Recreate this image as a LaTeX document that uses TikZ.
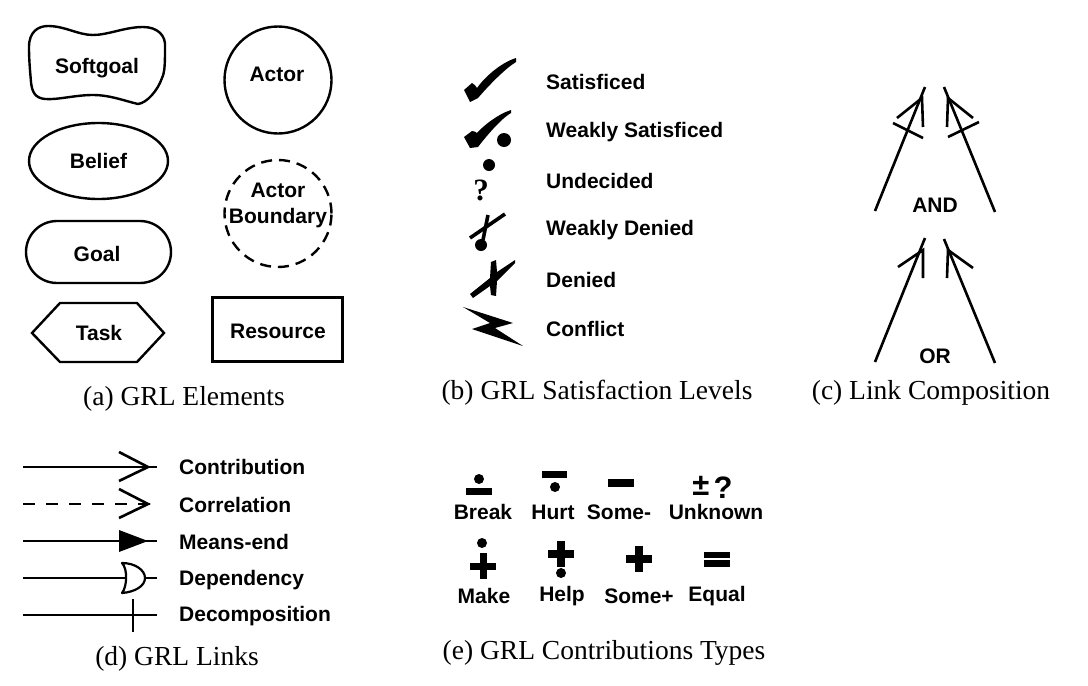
\documentclass[tikz,border=0pt]{standalone}
\usepackage{fontspec}
\setmainfont{Liberation Serif}
\setsansfont{Liberation Sans}
\usetikzlibrary{shapes.geometric,shapes.misc}

\tikzset{
   x=1pt, y=-1pt,
   every node/.style={font=\sffamily\bfseries\fontsize{21}{26}\selectfont, inner sep=0pt},
   outline/.style={draw, line width=2.4pt},
   lbl/.style={anchor=west},
   caption/.style={font=\rmfamily\fontsize{27.5}{32}\selectfont},
   link/.style={line width=2.6pt},
   thin link/.style={line width=2.2pt},
   glyph/.style={fill=black, draw=none},
}

\begin{document}
\begin{tikzpicture}
   \useasboundingbox (0,0) rectangle (1088,686);

   % GRL elements
   \draw [outline, line join=round] (29,47) .. controls (29,32) and (38,26) .. (48,26)
      .. controls (65,26) and (78,35) .. (93,35)
      .. controls (108,35) and (125,27) .. (143,27)
      .. controls (158,27) and (166,36) .. (165,47)
      .. controls (165,62) and (165,72) .. (162,78)
      .. controls (158,90) and (147,103) .. (138,104)
      .. controls (125,101) and (110,95) .. (93,95)
      .. controls (75,95) and (58,100) .. (45,99)
      .. controls (35,98) and (32,92) .. (31,82)
      .. controls (30,70) and (29,60) .. (29,47) -- cycle;
   \node (softgoal) at (97,68) {Softgoal};
   \node [outline, circle, minimum size=107pt] (actor) at (278,80) {};
   \node at (277,74) {Actor};
   \node [outline, ellipse, minimum width=139pt, minimum height=76pt] (belief) at (98.5,161) {Belief};
   \node [outline, dashed, dash pattern=on 11pt off 7pt, circle, minimum size=107pt, align=center] (boundary) at (278,213.5) {};
   \node [align=center] at (278,205) {Actor\\Boundary};
   \node [outline, rounded rectangle, minimum width=145pt, minimum height=62pt] (goal) at (98.5,252) {};
   \node at (97,254) {Goal};
   \draw [outline] (32,333) -- (60,303) -- (137,303) -- (164,333) -- (137,362) -- (60,362) -- cycle;
   \node (task) at (99,333) {Task};
   \node [draw, line width=3.2pt, minimum width=130pt, minimum height=64pt] (resource) at (277.5,329.5) {};
   \node at (278,331) {Resource};
   \node [caption] (capa) at (184,399) {(a) GRL Elements};

   % satisfaction levels
   \fill [glyph] (464,90) -- (472,83) .. controls (474,84) and (476,86) .. (477,88)
      .. controls (484,78) and (500,63) .. (516,58) -- (516,62)
      .. controls (506,68) and (490,84) .. (478,98)
      -- (470,102) -- cycle;
   \node [lbl] (satisfied) at (546,82) {Satisficed};
   \fill [glyph] (464,137) -- (472,131) .. controls (474,131) and (476,132) .. (477,133)
      .. controls (483,126) and (498,114) .. (511,110) -- (511,113)
      .. controls (502,118) and (488,134) .. (478,147)
      -- (470,148) -- cycle;
   \fill [glyph] (504,140) circle (7);
   \node [lbl] (weaksat) at (546,132) {Weakly Satisficed};
   \fill [glyph] (489,165) circle (6);
   \node [font=\rmfamily\bfseries\fontsize{31}{31}\selectfont] (undecidedsign) at (481,190) {?};
   \node [lbl] (undecided) at (546,181) {Undecided};
   \draw [line width=3.6pt] (470,238) -- (505,214);
   \draw [line width=3.6pt] (488,215) -- (483,240);
   \fill [glyph] (481,245) circle (6);
   \node [lbl] (weakdenied) at (546,230) {Weakly Denied};
   \fill [glyph] (470,294) -- (490,278) -- (491,262) -- (496,260) -- (497,272) -- (515,260) -- (515,263)
      -- (497,281) -- (496,296) -- (491,295) -- (490,286) -- (473,298) -- cycle;
   \node [lbl] (denied) at (546,280) {Denied};
   \fill [glyph] (463,307) -- (513,323) -- (495,328) -- (523,346) -- (472,329) -- (490,323) -- cycle;
   \node [lbl] (conflict) at (546,329) {Conflict};
   \node [caption] (capb) at (597,393) {(b) GRL Satisfaction Levels};

   % link composition
   \coordinate (andla) at (875,211);
   \coordinate (andlb) at (925,87);
   \coordinate (andra) at (995,212);
   \coordinate (andrb) at (944,87);
   \coordinate (orla) at (875,362);
   \coordinate (orlb) at (925,238);
   \coordinate (orra) at (995,363);
   \coordinate (orrb) at (944,239);
   \draw [link] (andla) -- (andlb);
   \draw [link] (897,118) -- (922,98) -- (923,127);
   \draw [link] (893,123) -- (923,138);
   \draw [link] (andra) -- (andrb);
   \draw [link] (973,118) -- (948,98) -- (947,127);
   \draw [link] (979,122) -- (948,137);
   \node (and) at (935,205) {AND};
   \draw [link] (orla) -- (orlb);
   \draw [link] (898,267) -- (923,250) -- (923,278);
   \draw [link] (orra) -- (orrb);
   \draw [link] (973,268) -- (948,250) -- (947,278);
   \node (or) at (935,356) {OR};
   \node [caption] (capc) at (931,393) {(c) Link Composition};

   % GRL links
   \coordinate (conta) at (23,467);
   \coordinate (contb) at (157,467);
   \coordinate (corra) at (23,504);
   \coordinate (corrb) at (157,504);
   \coordinate (meana) at (23,541);
   \coordinate (meanb) at (157,541);
   \coordinate (depa) at (23,578);
   \coordinate (depb) at (125,578);
   \coordinate (depc) at (145,578);
   \coordinate (depd) at (157,578);
   \coordinate (deca) at (23,615);
   \coordinate (decb) at (157,615);
   \draw [link] (conta) -- (contb);
   \draw [link] (119,452) -- (148,467) -- (119,481);
   \node [lbl] (contribution) at (179,467) {Contribution};
   \draw [link, dash pattern=on 12pt off 11pt] (corra) -- (corrb);
   \draw [link] (119,489) -- (148,504) -- (119,518);
   \node [lbl] (correlation) at (179,505) {Correlation};
   \draw [link] (meana) -- (meanb);
   \fill [glyph] (119,530) -- (148,541) -- (119,552) -- cycle;
   \node [lbl] (meansend) at (179,542) {Means-end};
   \draw [thin link] (depa) -- (depb);
   \draw [thin link] (depc) -- (depd);
   \draw [thin link, line join=round] (122,563) .. controls (135,563) and (145,570) .. (145,578)
      .. controls (145,586) and (135,592) .. (122,593)
      .. controls (127,587) and (128,569) .. (122,563) -- cycle;
   \node [lbl] (dependency) at (179,580) {Dependency};
   \draw [link] (deca) -- (decb);
   \draw [link] (133,599) -- (133,632);
   \node [lbl] (decomposition) at (179,616) {Decomposition};
   \node [caption] (capd) at (177,659) {(d) GRL Links};

   % contribution types
   \fill [glyph] (479,479) circle (5);
   \fill [glyph] (466,488) rectangle (492,495);
   \node (break) at (483,512) {Break};
   \fill [glyph] (542,471) rectangle (567,478);
   \fill [glyph] (555,487) circle (5);
   \node (hurt) at (553,512) {Hurt};
   \fill [glyph] (608,479) rectangle (634,487);
   \node (someminus) at (619,512) {Some-};
   \node [font=\sffamily\bfseries\fontsize{31}{31}\selectfont] (plusminus) at (701,486) {±};
   \node [font=\sffamily\bfseries\fontsize{31}{31}\selectfont] (unknownsign) at (723,488) {?};
   \node (unknown) at (716,512) {Unknown};
   \fill [glyph] (482,543) circle (5);
   \fill [glyph] (470,563) rectangle (496,570);
   \fill [glyph] (479.5,553) rectangle (486.5,579);
   \node (make) at (484,596) {Make};
   \fill [glyph] (548,550) rectangle (574,558);
   \fill [glyph] (557,541) rectangle (565,567);
   \fill [glyph] (561,573) circle (5);
   \node (help) at (562,596) {Help};
   \fill [glyph] (626,555) rectangle (652,563);
   \fill [glyph] (635,546) rectangle (643,572);
   \node (someplus) at (639,596) {Some+};
   \fill [glyph] (704,552) rectangle (730,558);
   \fill [glyph] (704,560) rectangle (730,567);
   \node (equal) at (717,596) {Equal};
   \node [caption] (cape) at (604,653) {(e) GRL Contributions Types};
\end{tikzpicture}
\end{document}
